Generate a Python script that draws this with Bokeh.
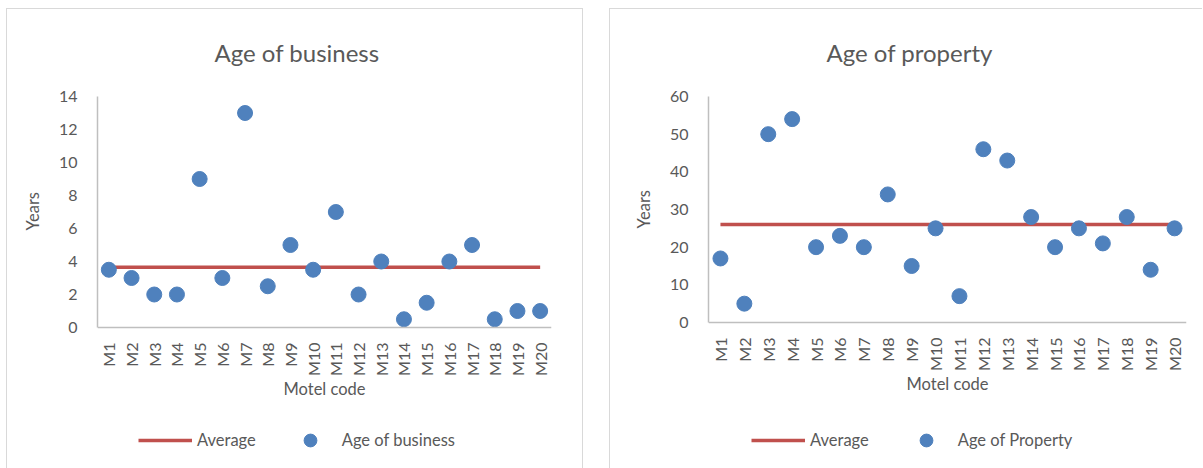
import math
import numpy as np
from bokeh.plotting import figure
from bokeh.layouts import row
from bokeh.models import FactorRange, Range1d, FixedTicker, Legend, LegendItem, Title
from bokeh.embed import file_html
from bokeh.resources import INLINE

# Motel codes shared by both panels
motels = [f"M{i}" for i in range(1, 21)]

# Years each motel business has been operating
business_age = [3.5, 3, 2, 2, 9, 3, 13, 2.5, 5, 3.5, 7, 2, 4, 0.5, 1.5, 4, 5, 0.5, 1, 1]

# Age of each motel property in years
property_age = [17, 5, 50, 54, 20, 23, 20, 34, 15, 25, 7, 46, 43, 28, 20, 25, 21, 28, 14, 25]

business_ticks = [0, 2, 4, 6, 8, 10, 12, 14]
property_ticks = [0, 10, 20, 30, 40, 50, 60]

FONT = "Lato"
TEXT = "#595959"
AXIS = "#bfbfbf"
RED = "#C0504D"
BLUE = "#4F81BD"
BORDER = "1px solid #d9d9d9"

HEIGHT = 460
TOP = 87          # frame top inside the figure
BOTTOM_PAD = 2    # space under the frame


def panel(title, values, ticks, series_label, width, left, right, zero_px,
          title_offset, ylabel_offset, legend_x, legend_spacing):
    """zero_px: pixel row of the value 0 inside the figure; the frame runs on
    below it so the x axis and the legend share the plotting area."""
    avg = float(np.mean(values))
    frame_bottom = HEIGHT - BOTTOM_PAD
    span = ticks[-1] - ticks[0]
    y_start = -span * (frame_bottom - zero_px) / (zero_px - TOP)

    p = figure(
        x_range=FactorRange(*motels, range_padding=0),
        y_range=Range1d(y_start, ticks[-1]),
        width=width, height=HEIGHT,
        output_backend="svg", toolbar_location=None,
        min_border_left=left, min_border_right=right,
        min_border_top=TOP, min_border_bottom=BOTTOM_PAD,
    )
    p.outline_line_color = None
    p.grid.visible = False
    p.background_fill_color = "white"
    p.border_fill_color = "white"

    p.title.text = title
    p.title.align = "left"
    p.title.offset = title_offset
    p.title.vertical_align = "top"
    p.title.standoff = 56
    p.title.text_font = FONT
    p.title.text_font_size = "24px"
    p.title.text_font_style = "normal"
    p.title.text_color = TEXT

    for ax in (p.xaxis[0], p.yaxis[0]):
        ax.axis_line_color = AXIS
        ax.axis_line_width = 1.5
        ax.major_tick_line_color = None
        ax.minor_tick_line_color = None
        ax.major_label_text_font = FONT
        ax.major_label_text_font_size = "16px"
        ax.major_label_text_color = TEXT
        ax.axis_label_text_font = FONT
        ax.axis_label_text_font_size = "16.5px"
        ax.axis_label_text_font_style = "normal"
        ax.axis_label_text_color = TEXT

    p.yaxis.ticker = FixedTicker(ticks=ticks)
    p.yaxis.bounds = (ticks[0], ticks[-1])
    p.yaxis.major_label_standoff = 14

    # y-axis title, placed beside the 0..max span of the axis
    p.add_layout(Title(text="Years", align="left", offset=ylabel_offset,
                       standoff=26, text_font=FONT, text_font_size="16.5px",
                       text_font_style="normal", text_color=TEXT), "left")

    p.xaxis.fixed_location = 0
    p.xaxis.axis_label = "Motel code"
    p.xaxis.major_label_orientation = math.pi / 2
    p.xaxis.major_label_standoff = 9
    p.xaxis.axis_label_standoff = 0

    line = p.line(x=motels, y=[avg] * len(motels), line_color=RED, line_width=3.5)
    dots = p.scatter(x=motels, y=values, size=15, fill_color=BLUE, line_color=BLUE)

    legend = Legend(
        items=[LegendItem(label="Average", renderers=[line]),
               LegendItem(label=series_label, renderers=[dots])],
        orientation="horizontal",
        location=(legend_x, 11),
        glyph_width=54, glyph_height=32,
        label_standoff=5, spacing=legend_spacing,
        padding=0, margin=0,
        border_line_color=None, background_fill_alpha=0,
        label_text_font=FONT, label_text_font_size="16.5px",
        label_text_color=TEXT,
    )
    p.add_layout(legend, "center")
    return p


p1 = panel("Age of business", business_age, business_ticks, "Age of business",
           577, 90, 33, 318, 117, 237, 41, 27)
p1.styles = {"border-top": BORDER, "border-left": BORDER, "border-right": BORDER}
p1.margin = (8, 0, 0, 6)

p2 = panel("Age of property", property_age, property_ticks, "Age of Property",
           593, 98, 17, 313, 118, 239, 43, 30)
p2.styles = {"border-top": BORDER, "border-left": BORDER}
p2.margin = (8, 0, 0, 26)

layout = row(p1, p2)

with open("out.html", "w") as f:
    f.write(file_html(layout, INLINE))
